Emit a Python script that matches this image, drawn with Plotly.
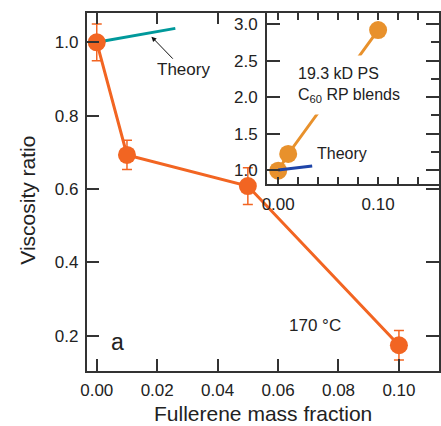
import plotly.graph_objects as go

# Main panel: viscosity ratio vs fullerene mass fraction at 170 °C
mass_fraction = [0.0, 0.01, 0.05, 0.10]
viscosity_ratio = [1.0, 0.693, 0.608, 0.174]
viscosity_err = [0.05, 0.04, 0.05, 0.04]

theory_x = [0.0, 0.026]
theory_y = [1.0, 1.038]

# Inset: 19.3 kD PS / C60 RP blends
inset_fraction = [0.0, 0.01, 0.10]
inset_ratio = [0.99, 1.22, 2.92]
inset_theory_x = [0.0, 0.034]
inset_theory_y = [1.0, 1.055]

main_ticks = [0.0, 0.02, 0.04, 0.06, 0.08, 0.10]
main_ticktext = ["0.00", "0.02", "0.04", "0.06", "0.08", "0.10"]
main_yticks = [0.2, 0.4, 0.6, 0.8, 1.0]
main_yticktext = ["0.2", "0.4", "0.6", "0.8", "1.0"]
inset_xticks = [0.0, 0.10]
inset_xticktext = ["0.00", "0.10"]
inset_yticks = [1.0, 1.5, 2.0, 2.5, 3.0]
inset_yticktext = ["1.0", "1.5", "2.0", "2.5", "3.0"]

FONT = "Liberation Sans, Arial, Helvetica, sans-serif"
INK = "#222222"
AXIS = "#333333"
ORANGE = "#F26522"
INSET_ORANGE = "#E8912C"
TEAL = "#00999B"
BLUE = "#1E44A8"

fig = go.Figure()

fig.add_trace(go.Scatter(
    x=theory_x, y=theory_y, mode="lines",
    line=dict(color=TEAL, width=3), showlegend=False, hoverinfo="skip",
    xaxis="x", yaxis="y"))

fig.add_trace(go.Scatter(
    x=mass_fraction, y=viscosity_ratio, mode="lines+markers",
    line=dict(color=ORANGE, width=3),
    marker=dict(color=ORANGE, size=18),
    error_y=dict(type="data", array=viscosity_err, visible=True,
                 color=ORANGE, thickness=1.5, width=5),
    showlegend=False, xaxis="x", yaxis="y"))

fig.add_trace(go.Scatter(
    x=inset_fraction, y=inset_ratio, mode="lines+markers",
    line=dict(color=INSET_ORANGE, width=3),
    marker=dict(color=INSET_ORANGE, size=18),
    showlegend=False, xaxis="x2", yaxis="y2"))

fig.add_trace(go.Scatter(
    x=inset_theory_x, y=inset_theory_y, mode="lines",
    line=dict(color=BLUE, width=3), showlegend=False, hoverinfo="skip",
    xaxis="x2", yaxis="y2"))

# right-hand inset axis carries the minor ticks
fig.add_trace(go.Scatter(x=[0.0], y=[1.0], xaxis="x2", yaxis="y3",
                         mode="markers", marker=dict(opacity=0),
                         showlegend=False, hoverinfo="skip"))

tickfont = dict(family=FONT, size=17, color=INK)

fig.update_layout(
    width=441, height=426,
    margin=dict(l=0, r=0, t=0, b=0),
    paper_bgcolor="white", plot_bgcolor="white",
    font=dict(family=FONT, color=INK),
    xaxis=dict(
        domain=[0.1853, 0.9943], range=[-0.00336, 0.1131],
        tickvals=main_ticks, ticktext=main_ticktext,
        ticks="inside", ticklen=12, tickwidth=1.5, tickcolor=AXIS,
        ticklabelstandoff=3,
        showline=True, linecolor=AXIS, linewidth=1.5, mirror="ticks",
        showgrid=False, zeroline=False, tickfont=tickfont, anchor="y"),
    yaxis=dict(
        domain=[0.1298, 0.9702], range=[0.1046, 1.0807],
        tickvals=main_yticks, ticktext=main_yticktext,
        ticks="inside", ticklen=13, tickwidth=1.5, tickcolor=AXIS,
        ticklabelstandoff=3,
        showline=True, linecolor=AXIS, linewidth=1.5, mirror="ticks",
        showgrid=False, zeroline=False, tickfont=tickfont, anchor="x"),
    xaxis2=dict(
        domain=[0.5998, 0.9955], range=[-0.0113, 0.161],
        tickvals=inset_xticks, ticktext=inset_xticktext,
        ticks="inside", ticklen=7, tickwidth=1.5, tickcolor=AXIS,
        ticklabelstandoff=4,
        minor=dict(dtick=0.02, tick0=0, ticks="inside", ticklen=7,
                   tickwidth=1.5, tickcolor=AXIS, showgrid=False),
        showline=True, linecolor=AXIS, linewidth=1.5, mirror="ticks",
        showgrid=False, zeroline=False, tickfont=tickfont, anchor="y2"),
    yaxis2=dict(
        domain=[0.5681, 0.9688], range=[0.808, 3.15],
        tickvals=inset_yticks, ticktext=inset_yticktext,
        ticks="inside", ticklen=13, tickwidth=1.5, tickcolor=AXIS,
        ticklabelstandoff=4,
        showline=True, linecolor=AXIS, linewidth=1.5, mirror=False,
        showgrid=False, zeroline=False, tickfont=tickfont, anchor="x2"),
    yaxis3=dict(
        overlaying="y2", side="right", anchor="x2", range=[0.808, 3.15],
        tickvals=inset_yticks, showticklabels=False,
        ticks="inside", ticklen=13, tickwidth=1.5, tickcolor=AXIS,
        minor=dict(dtick=0.25, tick0=0, ticks="inside", ticklen=8,
                   tickwidth=1.5, tickcolor=AXIS, showgrid=False),
        showline=True, linecolor=AXIS, linewidth=1.5,
        showgrid=False, zeroline=False),
)

annotations = [
    dict(text="Fullerene mass fraction", xref="paper", yref="paper",
         x=260.5 / 441, y=(426 - 413) / 426, xanchor="center", yanchor="middle",
         showarrow=False, font=dict(family=FONT, size=21, color=INK)),
    dict(text="Viscosity ratio", xref="paper", yref="paper",
         x=21 / 441, y=(426 - 200) / 426, xanchor="center", yanchor="middle",
         textangle=-90, showarrow=False, font=dict(family=FONT, size=21, color=INK)),
    # label with a leader arrow pointing to the theory line
    dict(text="Theory", xref="x", yref="y", x=0.0181, y=1.0153,
         ax=32, ay=33, showarrow=True, arrowhead=2, arrowsize=1,
         arrowwidth=1, arrowcolor="#111111", standoff=0,
         font=dict(family=FONT, size=17, color=INK)),
    dict(text="a", xref="x", yref="y", x=0.00695, y=0.184,
         showarrow=False, font=dict(family=FONT, size=23, color=INK)),
    dict(text="170 °C", xref="x", yref="y", x=0.0722, y=0.229,
         showarrow=False, font=dict(family=FONT, size=17, color=INK)),
    dict(text="19.3 kD PS<br>C<sub>60</sub> RP blends", xref="x2", yref="y2",
         x=0.0098, y=2.16, xanchor="left", yanchor="middle", align="left",
         showarrow=False, bgcolor="white", borderpad=9,
         font=dict(family=FONT, size=16, color=INK)),
    dict(text="Theory", xref="x2", yref="y2", x=0.0635, y=1.233,
         showarrow=False, font=dict(family=FONT, size=16, color=INK)),
]
fig.update_layout(annotations=annotations)

fig.write_html("out.html")
